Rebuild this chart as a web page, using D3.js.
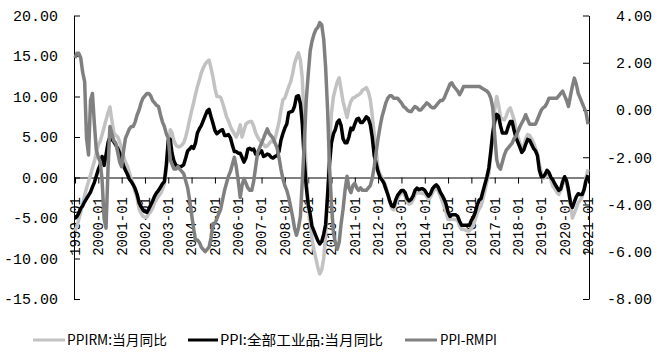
<!DOCTYPE html>
<html><head><meta charset="utf-8">
<script src="https://cdn.jsdelivr.net/npm/d3@7"></script>
<style>body{margin:0;background:#fff}svg{display:block}</style>
</head><body><svg id="c" width="660" height="356"></svg>
<script>
const startMonth = [1999, 0];
const tickLabels = ["1999-01","2000-01","2001-01","2002-01","2003-01","2004-01","2005-01","2006-01","2007-01","2008-01","2009-01","2010-01","2011-01","2012-01","2013-01","2014-01","2015-01","2016-01","2017-01","2018-01","2019-01","2020-01","2021-01"];
const leftTicks = [-15,-10,-5,0,5,10,15,20];
const rightTicks = [-8,-6,-4,-2,0,2,4];
const seriesNames = ["PPIRM:当月同比","PPI:全部工业品:当月同比","PPI-RMPI"];

const ppirm = [
-6.6,-6.0,-5.2,-4.3,-3.3,-2.2,-1.3,-0.5,0.3,1.2,2.0,3.0,
4.0,4.5,5.3,6.2,7.1,8.0,8.7,7.0,5.5,5.2,5.0,4.4,
3.5,2.6,1.9,1.4,0.6,-0.2,-0.8,-1.8,-2.6,-3.9,-4.4,-4.8,
-4.9,-4.9,-4.5,-4.2,-3.8,-3.1,-2.7,-2.3,-2.0,-1.5,-0.8,1.0,
3.5,5.9,5.5,4.5,4.0,3.8,3.8,4.0,4.3,5.0,6.0,7.1,
8.2,9.2,10.2,11.2,12.0,12.9,13.5,14.0,14.3,14.5,13.5,12.4,
11.0,10.0,10.0,9.9,9.2,8.4,7.5,7.0,6.3,5.8,5.4,5.0,
5.6,6.5,5.0,5.8,6.6,6.8,6.9,6.9,6.3,5.5,5.0,4.6,
4.3,4.1,3.8,3.9,4.2,4.5,4.4,4.8,5.8,6.8,8.3,9.6,
9.8,10.5,11.2,11.8,12.8,14.1,14.8,15.4,14.5,12.2,6.4,0.5,
-3.5,-5.5,-7.6,-8.9,-10.0,-11.1,-11.9,-11.4,-10.0,-7.0,-2.0,4.0,
8.0,10.0,10.9,11.8,12.3,10.8,9.4,8.4,7.4,8.6,9.4,9.8,
9.9,10.1,10.2,10.4,10.8,10.9,11.1,10.6,9.6,7.7,5.3,3.4,
1.0,0.4,0.0,-0.5,-1.1,-2.0,-3.0,-3.8,-4.0,-3.3,-2.6,-2.2,
-1.9,-1.9,-2.3,-3.0,-3.3,-3.2,-2.8,-2.1,-1.8,-1.9,-1.9,-2.0,
-2.0,-2.4,-2.7,-2.4,-1.9,-1.5,-1.2,-1.7,-2.3,-2.9,-3.6,-4.3,
-5.2,-5.2,-5.1,-5.2,-5.2,-5.3,-6.0,-6.4,-6.4,-6.5,-6.6,-6.6,
-6.3,-5.9,-5.2,-4.4,-3.9,-3.5,-2.6,-1.6,-0.5,0.5,2.8,5.5,
8.4,10.0,9.0,7.5,7.2,7.1,7.6,8.3,8.6,7.9,7.1,5.9,
5.0,4.2,3.5,3.9,4.8,5.3,5.2,4.8,4.3,3.6,2.9,1.6,
0.6,-0.1,0.0,0.6,0.4,-0.3,-1.1,-1.4,-1.8,-2.1,-1.6,-0.8,
-0.2,-0.8,-1.9,-3.1,-5.0,-4.4,-3.8,-3.1,-2.8,-2.4,-1.5,0.0,
1.0];

const ppi = [
-4.9,-4.8,-4.4,-3.8,-3.5,-3.0,-2.6,-2.2,-1.8,-1.2,-0.6,0.2,
1.0,1.6,2.6,1.5,2.8,4.3,5.0,4.7,4.4,4.0,3.6,3.0,
2.2,1.4,0.9,0.4,-0.2,-0.5,-0.9,-1.4,-2.1,-3.1,-3.6,-4.0,
-4.2,-4.3,-3.9,-3.4,-2.9,-2.3,-1.9,-1.6,-1.2,-0.8,-0.5,1.5,
4.6,4.7,3.0,2.0,1.5,1.4,1.3,1.4,1.6,2.4,3.3,3.5,
3.8,3.6,4.2,5.5,6.0,6.4,7.0,7.6,8.2,8.4,7.5,6.7,
5.8,5.4,5.6,5.8,5.9,5.2,5.2,5.3,4.9,4.0,3.2,3.2,
3.0,3.0,2.5,1.9,2.4,3.5,3.6,3.4,3.5,2.9,2.8,3.1,
3.3,2.6,2.7,2.9,2.8,2.5,2.4,2.6,2.7,3.2,4.6,5.4,
6.1,6.6,8.0,8.1,8.2,8.8,10.0,10.1,9.1,6.6,2.0,-1.1,
-3.3,-4.5,-6.0,-6.6,-7.2,-7.8,-8.2,-7.9,-7.0,-5.8,-2.1,1.7,
4.3,5.4,5.9,6.8,7.1,6.4,4.8,4.3,4.3,5.0,6.1,5.9,
6.6,7.2,7.3,6.8,6.8,7.1,7.5,7.3,6.5,5.0,2.7,1.7,
0.7,0.0,-0.3,-0.7,-1.4,-2.1,-2.9,-3.5,-3.6,-2.8,-2.2,-1.9,
-1.6,-1.6,-1.9,-2.6,-2.9,-2.7,-2.3,-1.6,-1.3,-1.5,-1.4,-1.4,
-1.6,-2.0,-2.3,-2.0,-1.4,-1.1,-0.9,-1.2,-1.8,-2.2,-2.7,-3.3,
-4.3,-4.8,-4.6,-4.6,-4.6,-4.8,-5.4,-5.9,-5.9,-5.9,-5.9,-5.9,
-5.3,-4.9,-4.3,-3.4,-2.8,-2.6,-1.7,-0.8,0.1,1.2,3.3,5.5,
6.9,7.8,7.6,6.4,5.5,5.5,5.5,6.3,6.9,6.9,5.8,4.9,
4.3,3.7,3.1,3.4,4.1,4.7,4.6,4.1,3.6,3.3,2.7,0.9,
0.1,0.1,0.4,0.9,0.6,0.0,-0.3,-0.8,-1.2,-1.6,-1.4,-0.5,
0.1,-0.4,-1.5,-3.1,-3.7,-3.0,-2.4,-2.0,-2.1,-2.1,-1.5,-0.4,
0.3];

const rmpi = [
2.2,2.4,2.4,2.2,1.6,1.2,-1.2,-1.9,0.4,0.7,-0.6,-1.7,
-2.0,-2.2,-3.0,-4.6,-5.0,-2.5,-0.7,-1.0,-1.3,-1.4,-1.8,-2.2,
-2.4,-1.7,-1.2,-1.0,-0.8,-0.7,-0.7,-0.5,-0.2,0.0,0.3,0.5,
0.6,0.7,0.7,0.6,0.4,0.3,0.2,0.15,-0.2,-0.5,-0.7,-1.0,
-1.2,-2.1,-2.3,-2.5,-2.5,-2.4,-2.5,-2.6,-2.7,-3.0,-3.3,-3.8,
-4.4,-5.0,-5.5,-5.5,-5.6,-5.8,-5.9,-6.0,-5.9,-5.8,-5.4,-4.8,
-4.8,-4.6,-4.4,-4.2,-3.8,-3.4,-3.1,-2.8,-2.6,-2.3,-2.0,-2.4,
-3.0,-3.7,-3.2,-2.9,-3.1,-3.3,-3.4,-3.4,-3.0,-2.4,-1.8,-1.6,
-1.4,-1.2,-1.0,-0.8,-1.0,-1.1,-1.2,-1.4,-1.6,-2.0,-2.5,-2.9,
-3.2,-3.4,-3.7,-4.1,-4.5,-5.0,-5.3,-5.0,-4.5,-3.0,-1.4,0.4,
1.5,2.5,2.9,3.2,3.4,3.5,3.7,3.6,3.0,1.8,0.0,-2.4,
-4.0,-5.2,-5.6,-5.9,-5.6,-4.8,-4.2,-3.4,-2.8,-3.3,-3.5,-3.2,
-3.1,-3.3,-3.4,-3.3,-3.4,-3.4,-3.4,-3.3,-3.2,-2.9,-2.4,-1.8,
-1.2,-0.7,-0.3,0.0,0.3,0.5,0.6,0.6,0.5,0.5,0.5,0.4,
0.3,0.15,0.1,0.0,-0.05,-0.07,0.05,0.15,0.1,0.0,0.0,0.1,
0.2,0.3,0.25,0.15,0.1,0.1,0.2,0.3,0.4,0.4,0.5,0.7,
0.9,1.1,1.15,1.0,0.9,0.8,0.65,0.8,1.0,1.0,1.0,1.0,
1.0,1.0,1.0,1.0,1.0,0.95,0.9,0.85,0.8,0.7,0.5,0.1,
-1.1,-2.1,-2.4,-2.5,-2.2,-1.9,-1.7,-1.6,-1.5,-1.4,-1.2,-1.1,
-0.9,-0.7,-0.55,-0.4,-0.2,-0.4,-0.6,-0.6,-0.6,-0.6,-0.4,-0.2,
0.0,0.1,0.15,0.3,0.5,0.5,0.5,0.5,0.5,0.6,0.7,0.8,
0.6,0.4,0.15,0.6,1.0,1.35,1.1,0.7,0.5,0.3,0.1,-0.1,
-0.6];

const svg = d3.select("#c");
const numFont = "'Liberation Mono','DejaVu Sans Mono',monospace";
const cjkFont = "'Noto Sans CJK SC','Liberation Mono',sans-serif";

const dates = ppi.map((_, i) => new Date(startMonth[0], startMonth[1] + i, 1));
const tickDates = tickLabels.map(s => new Date(+s.slice(0,4), +s.slice(5,7) - 1, 1));

const x = d3.scaleTime().domain([tickDates[0], tickDates[tickDates.length - 1]]).range([75, 588]);
const yL = d3.scaleLinear().domain([-15, 20]).range([299, 15.5]);
const yR = d3.scaleLinear().domain([-8, 4]).range([299, 15.5]);
const axisLeftX = 74, axisRightX = 589;

// x axis at zero of left scale (drawn first, lines go over it)
const xg = svg.append("g").attr("transform", `translate(0,${yL(0)})`)
  .call(d3.axisBottom(x).tickValues(tickDates).tickSizeInner(6).tickSizeOuter(0).tickFormat(""));
xg.select(".domain").attr("d", `M${axisLeftX},0.5H${axisRightX}`).attr("stroke", "#000");
xg.selectAll(".tick line").attr("stroke", "#000");
svg.append("g").selectAll("text").data(tickDates).join("text")
  .attr("transform", (d) => `translate(${x(d)},197) rotate(-90)`)
  .attr("text-anchor", "end").attr("dy", "0.35em")
  .attr("font-family", numFont).attr("font-size", 14).attr("fill", "#000")
  .text((d, i) => tickLabels[i]);

// left axis
const lg = svg.append("g").attr("transform", `translate(${axisLeftX},0)`)
  .call(d3.axisLeft(yL).tickValues(leftTicks).tickSizeInner(-6).tickSizeOuter(0).tickPadding(16).tickFormat(d => d.toFixed(2)));
lg.selectAll(".domain, .tick line").attr("stroke", "#000");
lg.selectAll("text").attr("font-family", numFont).attr("font-size", 15).attr("fill", "#000");

// right axis
const rg = svg.append("g").attr("transform", `translate(${axisRightX},0)`)
  .call(d3.axisRight(yR).tickValues(rightTicks).tickSizeInner(-6).tickSizeOuter(0).tickFormat(d => d.toFixed(2)));
rg.selectAll(".domain, .tick line").attr("stroke", "#000");
rg.selectAll("text").attr("font-family", numFont).attr("font-size", 15).attr("fill", "#000")
  .attr("text-anchor", "end").attr("x", 63);

svg.selectAll(".domain").attr("fill", "none");

// lines
const colors = ["#c2c2c2", "#000000", "#808080"];
const lineL = d3.line().x((d, i) => x(dates[i])).y(d => yL(d));
const lineR = d3.line().x((d, i) => x(dates[i])).y(d => yR(d));
svg.append("path").datum(ppirm).attr("d", lineL).attr("fill", "none")
  .attr("stroke", colors[0]).attr("stroke-width", 3.5).attr("stroke-linejoin", "round");
svg.append("path").datum(ppi).attr("d", lineL).attr("fill", "none")
  .attr("stroke", colors[1]).attr("stroke-width", 3.5).attr("stroke-linejoin", "round");
svg.append("path").datum(rmpi).attr("d", lineR).attr("fill", "none")
  .attr("stroke", colors[2]).attr("stroke-width", 3.5).attr("stroke-linejoin", "round");

// legend
const legendItems = [
  {x1: 33, x2: 65, tx: 67, tw: 100},
  {x1: 188, x2: 218, tx: 220, tw: 163},
  {x1: 405, x2: 437, tx: 440, tw: 57}
];
const lgd = svg.append("g");
legendItems.forEach((it, i) => {
  lgd.append("line").attr("x1", it.x1).attr("x2", it.x2).attr("y1", 340).attr("y2", 340)
    .attr("stroke", colors[i]).attr("stroke-width", 3);
  lgd.append("text").attr("x", it.tx).attr("y", 340).attr("dy", "0.36em")
    .attr("font-family", cjkFont).attr("font-size", 14).attr("fill", "#000")
    .attr("textLength", it.tw).attr("lengthAdjust", "spacingAndGlyphs")
    .text(seriesNames[i]);
});
</script>
</body></html>
